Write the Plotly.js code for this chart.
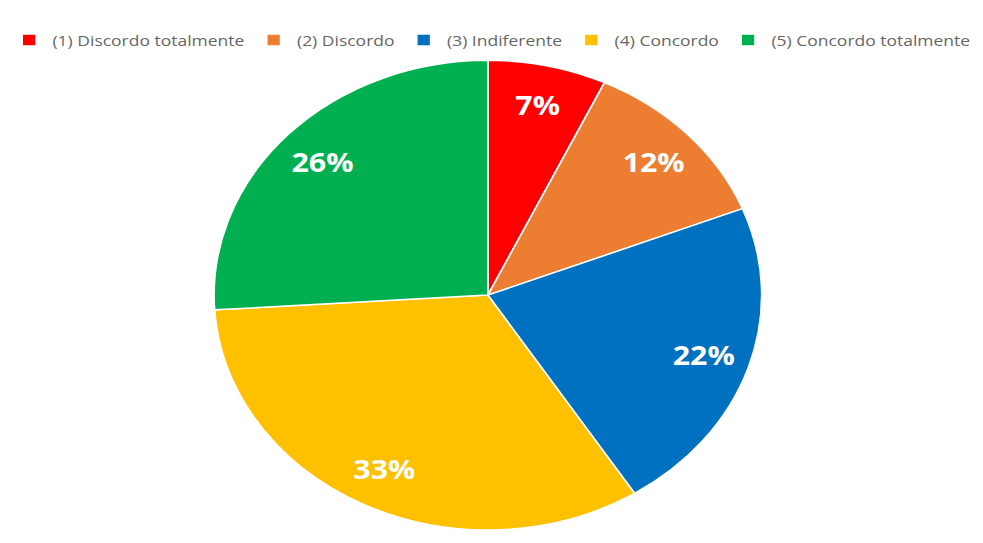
<!DOCTYPE html>
<html><head><meta charset="utf-8">
<script src="https://cdn.plot.ly/plotly-3.0.1.min.js"></script>
<style>
html,body{margin:0;padding:0;background:#fff;overflow:hidden;}
#wrap{width:983px;height:543px;overflow:hidden;}
#chart{width:843px;height:543px;transform:scaleX(1.166);transform-origin:0 0;}
</style></head>
<body><div id="wrap"><div id="chart"></div></div>
<script>
const labels = ["(1) Discordo totalmente","(2) Discordo","(3) Indiferente","(4) Concordo","(5) Concordo totalmente"];
const values = [7, 12, 22, 33, 26];
const colors = ["#FF0000","#ED7D31","#0070C0","#FFC000","#00B050"];

const W = 843, H = 543;
const dom = {x: [0.2177, 0.775], y: [0.024, 0.889]};

const trace = {
  type: "pie",
  labels: labels,
  values: values,
  sort: false,
  direction: "clockwise",
  rotation: 0,
  marker: {colors: colors, line: {color: "#ffffff", width: 1.5}},
  textinfo: "none",
  hoverinfo: "label+percent",
  domain: dom
};

// Percentage labels placed along each slice's mid-angle (derived from the data)
const total = values.reduce((a, b) => a + b, 0);
const cx = (dom.x[0] + dom.x[1]) / 2, cy = (dom.y[0] + dom.y[1]) / 2;
const R = (dom.y[1] - dom.y[0]) * H / 2;
const annotations = [];
let cum = 0;
values.forEach((v) => {
  const mid = (cum + v / 2) / total * 2 * Math.PI;
  cum += v;
  const r = 0.83 * R;
  annotations.push({
    x: cx + r * Math.sin(mid) / W,
    y: cy + r * Math.cos(mid) / H,
    xref: "paper", yref: "paper",
    xanchor: "center", yanchor: "middle",
    text: Math.round(v / total * 100) + "%",
    showarrow: false,
    font: {family: "Open Sans, sans-serif", size: 26, color: "#ffffff", weight: "bold"}
  });
});

const layout = {
  width: W, height: H,
  margin: {l: 0, r: 0, t: 0, b: 0},
  paper_bgcolor: "#ffffff",
  showlegend: true,
  annotations: annotations,
  legend: {
    orientation: "h",
    x: 0.5, xanchor: "center",
    y: 0.926, yanchor: "middle",
    font: {family: "Open Sans, sans-serif", size: 15, color: "#666666"},
    itemwidth: 30,
    traceorder: "normal"
  }
};
Plotly.newPlot("chart", [trace], layout, {displayModeBar: false, staticPlot: true});
</script></body></html>
